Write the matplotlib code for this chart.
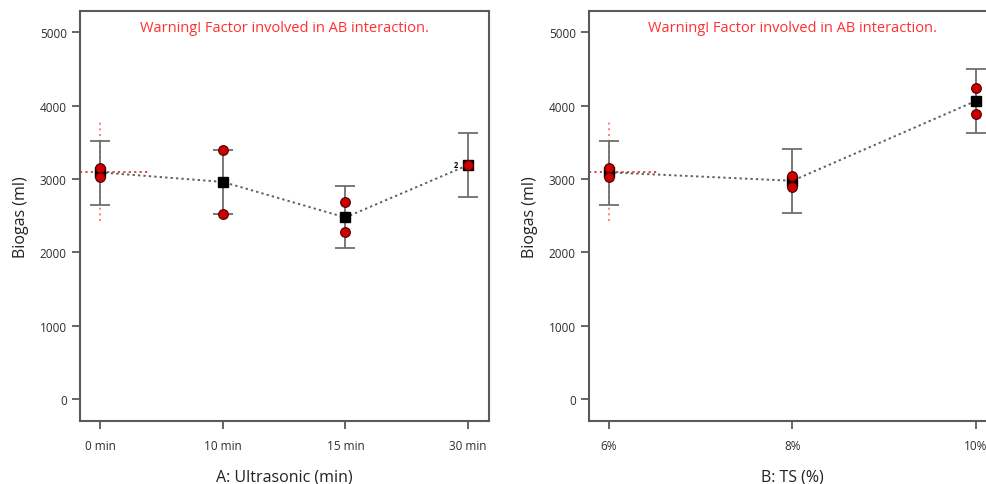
import matplotlib
matplotlib.use("Agg")
import matplotlib.pyplot as plt

plt.rcParams["font.family"] = ["Open Sans", "DejaVu Sans"]

# factor A: ultrasonic time
a_labels = ["0 min", "10 min", "15 min", "30 min"]
a_mean = [3090, 2960, 2475, 3190]
a_low = [2647, 2520, 2053, 2752]
a_high = [3518, 3392, 2906, 3624]
a_obs_hi = [3147, 3392, 2680, 3192]
a_obs_lo = [3024, 2520, 2271, 3192]

# factor B: total solids
b_labels = ["6%", "8%", "10%"]
b_mean = [3090, 2975, 4064]
b_low = [2647, 2534, 3633]
b_high = [3518, 3406, 4496]
b_obs_hi = [3147, 3043, 4246]
b_obs_lo = [3024, 2884, 3883]

# LSD bar at the reference level
lsd_low, lsd_high = 2425, 3774

yticks = [0, 1000, 2000, 3000, 4000, 5000]
warn = "Warning! Factor involved in AB interaction."
spine_c = "#5a5a5a"
red = "#ff3030"


def draw_panel(ax, labels, mean, low, high, obs_hi, obs_lo, xlim, hline_end, xlabel):
    x = list(range(len(labels)))
    # LSD markers at first level
    ax.plot([0, 0], [lsd_low, lsd_high], color="#ff6b6b", ls=(0, (1.2, 2.2)), lw=1.2, zorder=1)
    ax.plot([xlim[0], hline_end], [mean[0], mean[0]], color="#d83838", ls=(0, (1.2, 1.8)), lw=1.3, zorder=1)
    # connecting line of predicted means
    ax.plot(x, mean, color="#606060", ls=(0, (1.2, 1.6)), lw=1.4, zorder=2)
    yerr = [[m - l for m, l in zip(mean, low)], [h - m for m, h in zip(mean, high)]]
    ax.errorbar(x, mean, yerr=yerr, fmt="none", ecolor="#6e6e6e", elinewidth=1.3,
                capsize=7, capthick=1.3, zorder=3)
    ax.plot(x, mean, ls="none", marker="s", ms=6.5, color="black", zorder=4)
    ax.plot(x, obs_hi, ls="none", marker="o", ms=7, mfc="#cc0000", mec="#4a0000", mew=0.8, zorder=5)
    ax.plot(x, obs_lo, ls="none", marker="o", ms=7, mfc="#cc0000", mec="#4a0000", mew=0.8, zorder=5)

    ax.set_xlim(*xlim)
    ax.set_ylim(-300, 5290)
    ax.set_xticks(x)
    ax.set_xticklabels(labels)
    ax.set_yticks(yticks)
    ax.tick_params(axis="both", colors=spine_c, labelcolor="#2e2e2e", labelsize=8.5,
                   width=1.3, length=6, direction="out")
    ax.tick_params(axis="x", pad=7)
    for s in ax.spines.values():
        s.set_color(spine_c)
        s.set_linewidth(1.5)
    ax.set_ylabel("Biogas (ml)", fontsize=11.5, color="#222222", labelpad=8)
    ax.set_xlabel(xlabel, fontsize=11.5, color="#222222", labelpad=12)
    ax.text(0.5, 0.96, warn, transform=ax.transAxes, ha="center", va="center",
            color=red, fontsize=10.5)


fig = plt.figure(figsize=(9.86, 4.85), dpi=100)
ax1 = fig.add_axes([0.0811, 0.1299, 0.4148, 0.8454])
ax2 = fig.add_axes([0.5974, 0.1299, 0.4128, 0.8454])

draw_panel(ax1, a_labels, a_mean, a_low, a_high, a_obs_hi, a_obs_lo,
           (-0.163, 3.17), 0.41, "A: Ultrasonic (min)")
draw_panel(ax2, b_labels, b_mean, b_low, b_high, b_obs_hi, b_obs_lo,
           (-0.109, 2.11), 0.26, "B: TS (%)")

# count label for overlapping points
ax1.annotate("2", (3, a_obs_hi[3]), xytext=(-9, 0), textcoords="offset points",
             ha="center", va="center", fontsize=5.5, fontweight="bold", color="black")

fig.savefig("out.png", dpi=100)
